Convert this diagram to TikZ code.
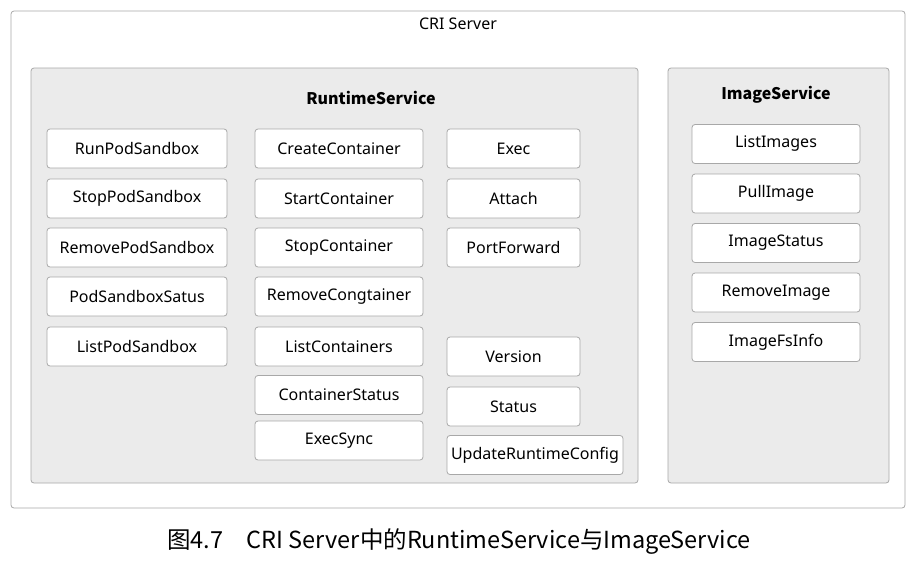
\documentclass[tikz,border=0pt]{standalone}
\usepackage{fontspec}
\setmainfont{Noto Sans}
\newfontfamily\cjk{Noto Sans CJK SC}
\usetikzlibrary{calc}
\definecolor{panelgray}{HTML}{EBEBEB}
\definecolor{edgegray}{HTML}{A8A8A8}
\tikzset{
	panel/.style={draw=edgegray, fill=panelgray, rounded corners=3pt, line width=0.8pt},
	call/.style={draw=edgegray, fill=white, rounded corners=3pt, line width=0.8pt,
		minimum height=39pt, inner sep=0pt, font=\fontsize{16}{19}\selectfont},
	colA/.style={call, minimum width=180pt},
	colB/.style={call, minimum width=168pt},
	colC/.style={call, minimum width=133pt},
	colI/.style={call, minimum width=168pt},
	title/.style={font=\cjk\fontsize{16}{19}\selectfont\bfseries}
}

\begin{document}
\begin{tikzpicture}[x=1pt, y=-1pt]
		%%%%% START %%%%%
		\useasboundingbox (0, 0) rectangle (919, 571);
		
		\draw[draw=edgegray, fill=white, rounded corners=3pt, line width=0.8pt] (11, 11) rectangle (905, 508);
		\node[font=\fontsize{16}{19}\selectfont] (server) at (458, 24) {CRI Server};
		
		\draw[panel] (31, 68) rectangle (638, 483);
		\node[title] (runtime) at (371, 98) {RuntimeService};
		
		\draw[panel] (668, 68) rectangle (889, 483);
		\node[title] (image) at (776, 95) {ImageService};
		
		% pod sandbox calls
		\node[colA] (runpod) at (137, 148.5) {RunPodSandbox};
		\node[colA] (stoppod) at (137, 198.5) {StopPodSandbox};
		\node[colA] (removepod) at (137, 247.5) {RemovePodSandbox};
		\node[colA] (podstatus) at (137, 296.5) {PodSandboxSatus};
		\node[colA] (listpod) at (137, 346.5) {ListPodSandbox};
		
		% container calls
		\node[colB] (create) at (339, 148.5) {CreateContainer};
		\node[colB] (start) at (339, 198.5) {StartContainer};
		\node[colB] (stop) at (339, 247.5) {StopContainer};
		\node[colB] (remove) at (339, 296.5) {RemoveCongtainer};
		\node[colB] (list) at (339, 346.5) {ListContainers};
		\node[colB] (status) at (339, 395) {ContainerStatus};
		\node[colB] (execsync) at (339, 440.5) {ExecSync};
		
		% streaming and runtime calls
		\node[colC] (exec) at (513.5, 148.5) {Exec};
		\node[colC] (attach) at (513.5, 198.5) {Attach};
		\node[colC] (portfwd) at (513.5, 247.5) {PortForward};
		\node[colC] (version) at (513.5, 356.5) {Version};
		\node[colC] (rtstatus) at (513.5, 406.5) {Status};
		\node[call, minimum width=176pt] (update) at (535, 455) {UpdateRuntimeConfig};
		
		% image calls
		\node[colI] (listimg) at (776, 144) {ListImages};
		\node[colI] (pullimg) at (776, 193.5) {PullImage};
		\node[colI] (imgstatus) at (776, 243) {ImageStatus};
		\node[colI] (removeimg) at (776, 292.5) {RemoveImage};
		\node[colI] (fsinfo) at (776, 342) {ImageFsInfo};
		
		\node[font=\cjk\fontsize{23.5}{28}\selectfont] (caption) at (459, 542) {图4.7\hspace{1em}CRI Server中的RuntimeService与ImageService};
		%%%%% END %%%%%
	\end{tikzpicture}
\end{document}
